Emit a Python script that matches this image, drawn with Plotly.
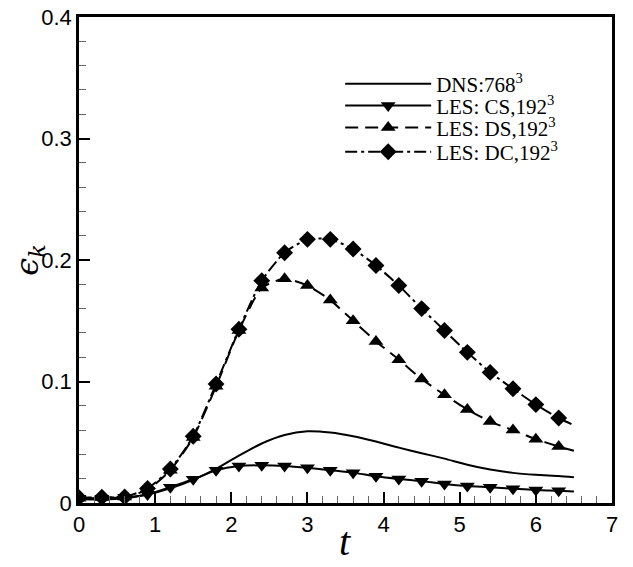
import plotly.graph_objects as go

# sample times of the LES markers (every 0.3) and end of the curves
t_marks = [0.0, 0.3, 0.6, 0.9, 1.2, 1.5, 1.8, 2.1, 2.4, 2.7, 3.0,
           3.3, 3.6, 3.9, 4.2, 4.5, 4.8, 5.1, 5.4, 5.7, 6.0, 6.3]
t_end = 6.5

dns = [0.003, 0.003, 0.004, 0.007, 0.012, 0.019, 0.028, 0.039, 0.049, 0.056, 0.059,
       0.058, 0.055, 0.0506, 0.0456, 0.041, 0.0365, 0.0315, 0.0275, 0.0248, 0.0232, 0.0222]
dns_end = 0.0212

les_cs = [0.004, 0.004, 0.0047, 0.007, 0.013, 0.0195, 0.027, 0.0305, 0.031, 0.0305, 0.029,
          0.027, 0.025, 0.022, 0.0198, 0.018, 0.0157, 0.014, 0.013, 0.0118, 0.0107, 0.010]
les_cs_end = 0.0095

les_ds = [0.004, 0.0045, 0.005, 0.011, 0.027, 0.054, 0.096, 0.142, 0.177, 0.1845, 0.179,
          0.167, 0.150, 0.133, 0.118, 0.102, 0.089, 0.077, 0.067, 0.060, 0.0525, 0.0465]
les_ds_end = 0.043

les_dc = [0.0044, 0.0047, 0.005, 0.012, 0.028, 0.055, 0.098, 0.143, 0.183, 0.206, 0.217,
          0.217, 0.209, 0.1955, 0.179, 0.160, 0.142, 0.124, 0.1075, 0.094, 0.081, 0.070]
les_dc_end = 0.064

names = ['DNS:768<sup>3</sup>', 'LES: CS,192<sup>3</sup>',
         'LES: DS,192<sup>3</sup>', 'LES: DC,192<sup>3</sup>']

t_line = t_marks + [t_end]
serif = 'Liberation Serif, Times New Roman, serif'

fig = go.Figure()

series = [
    (dns + [dns_end], None, 'solid', names[0], 'legend'),
    (les_cs + [les_cs_end], 'triangle-down', 'solid', names[1], 'legend2'),
    (les_ds + [les_ds_end], 'triangle-up', '13px,7px', names[2], 'legend3'),
    (les_dc + [les_dc_end], 'diamond', '12px,4px,3px,4px', names[3], 'legend4'),
]

for y, symbol, dash, name, leg in series:
    fig.add_trace(go.Scatter(
        x=t_line, y=y, mode='lines',
        line=dict(color='black', width=2, dash=dash, shape='spline', smoothing=0.6),
        showlegend=False, hoverinfo='skip'
    ))
    if symbol is not None:
        fig.add_trace(go.Scatter(
            x=t_marks, y=y[:-1], mode='markers',
            marker=dict(symbol=symbol, size=13, color='black'),
            showlegend=False
        ))
    # legend entry, one legend per row so the rows sit where the reference has them
    fig.add_trace(go.Scatter(
        x=[None], y=[None], name=name, legend=leg,
        mode='lines+markers' if symbol else 'lines',
        line=dict(color='black', width=2, dash=dash),
        marker=dict(symbol=symbol or 'circle', size=13, color='black')
    ))

leg_style = dict(xanchor='left', yanchor='middle', x=0.49,
                 font=dict(family=serif, size=21), itemwidth=86,
                 bgcolor='rgba(0,0,0,0)')

# x title placed by hand a little closer to the tick labels than plotly allows
fig.add_annotation(
    text='<i>t</i>', xref='paper', yref='paper', x=0.499, y=-0.08,
    xanchor='center', yanchor='middle', showarrow=False,
    font=dict(family=serif, size=40)
)

# the page body adds an 8px margin, so the figure is 8px smaller than the window
fig.update_layout(
    width=625, height=559,
    margin=dict(l=71, r=21, t=9, b=64),
    plot_bgcolor='white',
    paper_bgcolor='white',
    font=dict(family='Liberation Sans, Arial', size=22, color='black'),
    legend=dict(y=0.862, **leg_style),
    legend2=dict(y=0.817, **leg_style),
    legend3=dict(y=0.772, **leg_style),
    legend4=dict(y=0.722, **leg_style),
    xaxis=dict(
        range=[0, 7], dtick=1, tick0=0, automargin=False,
        showgrid=False, zeroline=False, ticklabeloverflow='allow',
        showline=True, linecolor='black', linewidth=2.5, mirror=True,
        ticks='inside', ticklen=11, tickwidth=2, tickcolor='black',
        minor=dict(dtick=0.2, ticks='inside', ticklen=7, tickwidth=1, tickcolor='#666'),
    ),
    yaxis=dict(
        range=[0, 0.4], dtick=0.1, tick0=0, automargin=False,
        showgrid=False, zeroline=False, ticklabeloverflow='allow',
        showline=True, linecolor='black', linewidth=2.5, mirror=True,
        ticks='inside', ticklen=11, tickwidth=2, tickcolor='black',
        minor=dict(dtick=0.02, ticks='inside', ticklen=7, tickwidth=1, tickcolor='#666'),
        tickformat='.1~f',
        title=dict(text='<i>ϵ<sub>k</sub></i>', font=dict(family='DejaVu Serif', size=32), standoff=4),
    ),
)

fig.write_html("out.html")
